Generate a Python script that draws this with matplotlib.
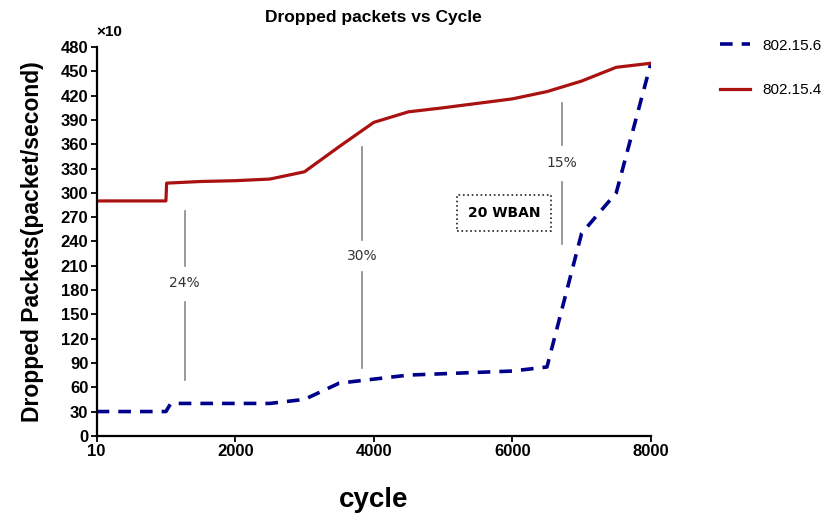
import matplotlib
matplotlib.use("Agg")
import matplotlib.pyplot as plt
import numpy as np

plt.rcParams['font.family'] = ['Liberation Sans', 'DejaVu Sans']

# data (y in units of x10 packets/second)
cycle_a = [0, 1000, 1070, 2500, 3000, 3500, 4000, 4500, 6000, 6500, 7000, 7500, 8000]
ieee_156 = [30, 30, 40, 40, 45, 65, 70, 75, 80, 85, 250, 300, 460]

cycle_b = [0, 1000, 1010, 1500, 2000, 2500, 3000, 3500, 4000, 4500, 5000, 6000, 6500, 7000, 7500, 8000]
ieee_154 = [290, 290, 312, 314, 315, 317, 326, 357, 387, 400, 405, 416, 425, 438, 455, 460]

# percentage markers: x, text y, upper segment, lower segment
pct_labels = ["24%", "30%", "15%"]
pct_x = [1270, 3830, 6715]
pct_text_y = [189, 222, 337]
pct_upper = [(210, 278), (242, 356), (359, 411)]
pct_lower = [(69, 165), (84, 202), (237, 314)]

xticks = [0, 2000, 4000, 6000, 8000]
xtick_labels = ["10", "2000", "4000", "6000", "8000"]
yticks = list(range(0, 481, 30))

fig = plt.figure(figsize=(8.26, 5.17), dpi=100)
ax = fig.add_axes([0.117, 0.157, 0.671, 0.752])

ax.plot(cycle_a, ieee_156, color="#00008B", linestyle=(0, (3.5, 2.5)), lw=2.6, label="802.15.6")
ax.plot(cycle_b, ieee_154, color="#AA1111", lw=2.3, label="802.15.4")

for lab, x, ty, up, lo in zip(pct_labels, pct_x, pct_text_y, pct_upper, pct_lower):
    ax.plot([x, x], up, color="#888888", lw=1.2)
    ax.plot([x, x], lo, color="#888888", lw=1.2)
    ax.text(x, ty, lab, ha="center", va="center", fontsize=10, color="#333333",
            family=["DejaVu Sans"])

ax.text(5880, 275, "20 WBAN", ha="center", va="center", fontsize=10, fontweight="bold",
        family=["DejaVu Sans"],
        bbox=dict(boxstyle="square,pad=0.8", fc="white", ec="#222222", ls=":", lw=1.2))

ax.set_xlim(0, 8000)
ax.set_ylim(0, 480)
ax.set_xticks(xticks)
ax.set_xticklabels(xtick_labels)
ax.set_yticks(yticks)
for lbl in ax.get_xticklabels() + ax.get_yticklabels():
    lbl.set_fontweight("bold")
ax.tick_params(axis="both", labelsize=12, length=4, width=1.3, pad=2)
ax.spines["top"].set_visible(False)
ax.spines["right"].set_visible(False)
ax.spines["left"].set_linewidth(1.6)
ax.spines["bottom"].set_linewidth(1.6)

ax.set_title("Dropped packets vs Cycle", fontsize=12.5, fontweight="bold", pad=18)
ax.set_ylabel("Dropped Packets(packet/second)", fontsize=16.5, fontweight="bold", labelpad=12)
ax.set_xlabel("cycle", fontsize=20, fontweight="bold", labelpad=20)
ax.text(0.0, 1.02, "\u00d710", transform=ax.transAxes, fontsize=11, fontweight="bold", ha="left", va="bottom")

fig.legend(loc="upper left", bbox_to_anchor=(0.862, 0.94), frameon=False, fontsize=11,
           labelspacing=2.0, handlelength=2.0, handletextpad=0.8, borderpad=0)

fig.savefig("out.png", dpi=100)
